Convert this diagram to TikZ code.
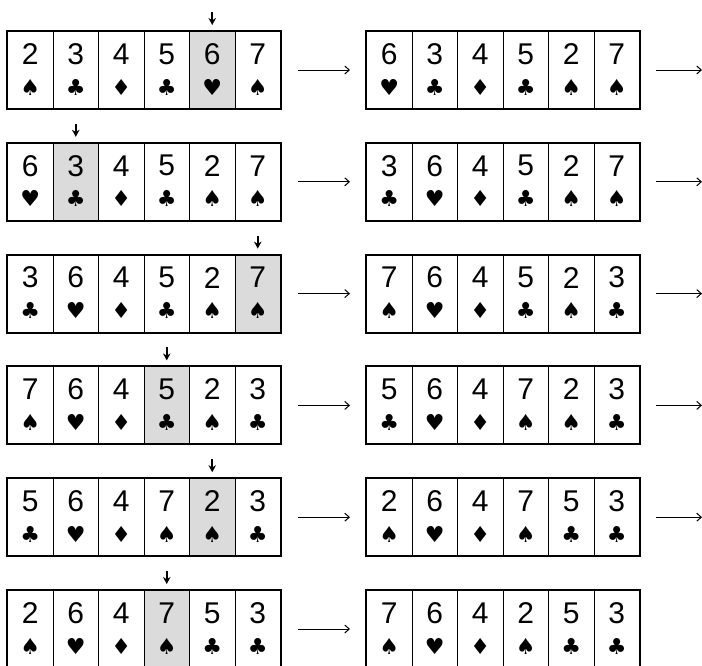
\documentclass[tikz,border=0pt]{standalone}
\usepackage{fontspec}
\setmainfont{Liberation Sans}
\newfontfamily\suitfont{DejaVu Sans}
\usetikzlibrary{arrows.meta}
\def\suitS{♠}\def\suitC{♣}\def\suitD{♦}\def\suitH{♥}
\tikzset{
 cellbox/.style={draw, line width=1pt, minimum width=45.5pt, minimum height=77pt, inner sep=0pt, anchor=north west, fill=#1},
 numtxt/.style={font=\fontsize{30}{30}\selectfont, inner sep=0pt},
 suittxt/.style={font=\suitfont\fontsize{22}{22}\selectfont, inner sep=0pt},
 outerbox/.style={line width=2pt},
 flow/.style={-{Straight Barb[length=4.5pt,width=8pt]}, line width=1pt},
 pick/.style={-{Stealth[length=7pt,width=7.5pt]}, line width=1.6pt},
}
\newcommand\cardrow[5]{%
 \foreach \v/\s [count=\i] in {#4} {
   \ifnum\i=#5 \def\fc{black!14}\else\def\fc{white}\fi
   \node[cellbox=\fc] (#1-\i) at ({#2+(\i-1)*45.5},#3) {};
   \node[numtxt] (#1-\i-n) at ([yshift=-23pt]#1-\i.north) {\v};
   \node[suittxt] (#1-\i-s) at ([yshift=-56pt]#1-\i.north) {\csname suit\s\endcsname};
 }
 \draw[outerbox] (#1-1.north west) rectangle (#1-6.south east);
 \ifnum#5>0
   \coordinate (#1-p) at ([yshift=19pt]#1-#5.north);
   \draw[pick, shorten >=6pt] (#1-p) -- (#1-#5);
 \fi
}
\begin{document}
\begin{tikzpicture}[x=1pt,y=-1pt]
\useasboundingbox (0,0) rectangle (702,665);
\def\ya{31}\def\yb{142.8}\def\yc{254.6}\def\yd{366.4}\def\ye{478.2}\def\yf{590}
\cardrow{L1}{7}{\ya}{2/S,3/C,4/D,5/C,6/H,7/S}{5}
\cardrow{R1}{366}{\ya}{6/H,3/C,4/D,5/C,2/S,7/S}{0}
\cardrow{L2}{7}{\yb}{6/H,3/C,4/D,5/C,2/S,7/S}{2}
\cardrow{R2}{366}{\yb}{3/C,6/H,4/D,5/C,2/S,7/S}{0}
\cardrow{L3}{7}{\yc}{3/C,6/H,4/D,5/C,2/S,7/S}{6}
\cardrow{R3}{366}{\yc}{7/S,6/H,4/D,5/C,2/S,3/C}{0}
\cardrow{L4}{7}{\yd}{7/S,6/H,4/D,5/C,2/S,3/C}{4}
\cardrow{R4}{366}{\yd}{5/C,6/H,4/D,7/S,2/S,3/C}{0}
\cardrow{L5}{7}{\ye}{5/C,6/H,4/D,7/S,2/S,3/C}{5}
\cardrow{R5}{366}{\ye}{2/S,6/H,4/D,7/S,5/C,3/C}{0}
\cardrow{L6}{7}{\yf}{2/S,6/H,4/D,7/S,5/C,3/C}{4}
\cardrow{R6}{366}{\yf}{7/S,6/H,4/D,2/S,5/C,3/C}{0}
\foreach \r in {1,...,6} {
  \draw[flow, shorten <=17pt, shorten >=16pt] (L\r-6) -- (R\r-1);
}
\foreach \r in {1,...,5} {
  \coordinate (E\r) at (702, 0 |- R\r-6.center);
  \draw[flow, shorten <=16pt] (R\r-6) -- (E\r);
}
\end{tikzpicture}
\end{document}
